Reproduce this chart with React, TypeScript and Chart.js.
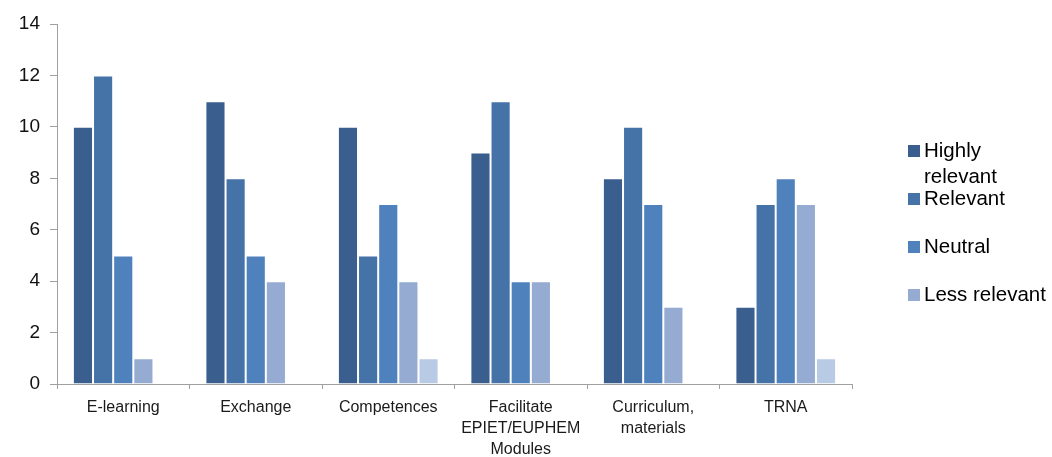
import React, { useEffect, useRef } from "react";
import { Chart, registerables } from "chart.js";

Chart.register(...registerables);

const categories: (string | string[])[] = [
  "E-learning",
  "Exchange",
  "Competences",
  ["Facilitate", "EPIET/EUPHEM", "Modules"],
  ["Curriculum,", "materials"],
  "TRNA",
];

const seriesNames = ["Highly relevant", "Relevant", "Neutral", "Less relevant", "Not relevant"];
const highlyRelevant = [10, 11, 10, 9, 8, 3];
const relevant = [12, 8, 5, 11, 10, 7];
const neutral = [5, 5, 7, 4, 7, 8];
const lessRelevant = [1, 4, 4, 4, 3, 7];
const notRelevant = [0, 0, 1, 0, 0, 1];
const seriesColors = ["#3a5f8e", "#4572a7", "#4f81bd", "#95abd1", "#b9cae4"];
const legendLines = [["Highly", "relevant"], ["Relevant"], ["Neutral"], ["Less relevant"]];
const yTicks = [0, 2, 4, 6, 8, 10, 12, 14];

const FONT = "'Liberation Sans', Arial, sans-serif";

const legendPlugin = {
  id: "customLegend",
  afterDraw(chart: any) {
    const ctx = chart.ctx;
    ctx.save();
    const boxX = 908;
    const textX = 924;
    const startY = 151;
    const step = 48;
    ctx.font = `20.5px ${FONT}`;
    ctx.textBaseline = "middle";
    ctx.textAlign = "left";
    legendLines.forEach((lines, i) => {
      const cy = startY + i * step;
      ctx.fillStyle = seriesColors[i];
      ctx.fillRect(boxX, cy - 6, 12, 12);
      ctx.fillStyle = "#000";
      lines.forEach((ln, j) => {
        ctx.fillText(ln, textX, cy + j * 26);
      });
    });
    ctx.restore();
  },
};

export default function App() {
  const ref = useRef<HTMLCanvasElement>(null);
  useEffect(() => {
    document.body.style.margin = "0";
    const values = [highlyRelevant, relevant, neutral, lessRelevant, notRelevant];
    const chart = new Chart(ref.current!, {
      type: "bar",
      data: {
        labels: categories,
        datasets: values.map((v, i) => ({
          label: seriesNames[i],
          data: v,
          backgroundColor: seriesColors[i],
          borderColor: "rgba(255,255,255,0.18)",
          borderWidth: 1,
          categoryPercentage: 0.76,
          barPercentage: 1.0,
        })),
      },
      options: {
        animation: false,
        responsive: false,
        maintainAspectRatio: false,
        layout: { padding: { top: 24, right: 200, left: 0, bottom: 0 } },
        plugins: {
          legend: { display: false },
          tooltip: { enabled: false },
        },
        scales: {
          x: {
            grid: {
              display: true,
              drawOnChartArea: false,
              offset: true,
              tickLength: 5,
              color: "#a0a0a0",
            },
            border: { color: "#a0a0a0", width: 1 },
            ticks: {
              color: "#1a1a1a",
              font: { family: FONT, size: 16, lineHeight: 1.32 },
              padding: 8,
              maxRotation: 0,
              autoSkip: false,
            },
            afterFit: (s: any) => {
              s.height = 73;
            },
          },
          y: {
            min: 0,
            max: 14,
            afterBuildTicks: (s: any) => {
              s.ticks = yTicks.map((v) => ({ value: v }));
            },
            grid: {
              display: true,
              drawOnChartArea: false,
              tickLength: 7,
              color: "#a0a0a0",
            },
            border: { color: "#a0a0a0", width: 1 },
            ticks: {
              color: "#111",
              font: { family: FONT, size: 19 },
              padding: 10,
            },
            afterFit: (s: any) => {
              s.width = 57;
            },
          },
        },
      },
      plugins: [legendPlugin],
    });
    return () => chart.destroy();
  }, []);
  return (
    <div style={{ position: "absolute", left: 0, top: 0, width: 1052, height: 457, background: "#fff" }}>
      <canvas ref={ref} width={1052} height={457} style={{ width: 1052, height: 457 }} />
    </div>
  );
}
